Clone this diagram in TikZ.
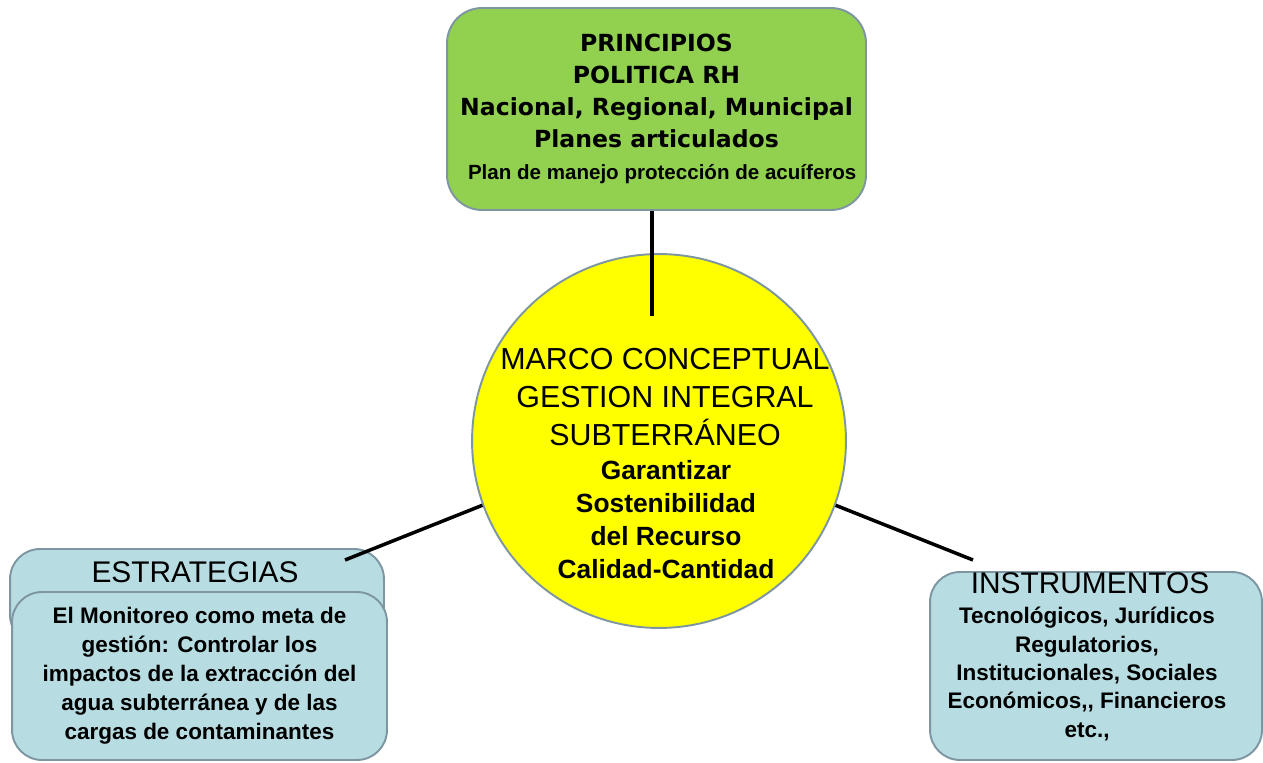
\documentclass[tikz,border=0pt]{standalone}
\usepackage{fontspec}
\setmainfont{Liberation Sans}
\newfontfamily\verdana{DejaVu Sans}
\usetikzlibrary{calc}
\definecolor{verde}{RGB}{146,208,80}
\definecolor{celeste}{RGB}{183,221,227}
\definecolor{amarillo}{RGB}{255,255,0}
\definecolor{borde}{RGB}{125,150,162}
\tikzstyle{caja} = [draw=borde, line width=1.1pt, rounded corners=0.6cm, inner sep=0pt]
\tikzstyle{conector} = [line width=2pt, black]

\begin{document}
\begin{tikzpicture}[x=0.02cm, y=-0.02cm]
        \useasboundingbox (0,0) rectangle (1263,763);

        % Principios (arriba)
        \node at (656.5,109) [caja, rounded corners=0.7cm, fill=verde, minimum width=8.38cm, minimum height=4.04cm, align=center, font=\verdana\bfseries\fontsize{13.4}{18.2}\selectfont] (principios) {PRINCIPIOS\\POLITICA RH\\Nacional, Regional, Municipal\\Planes articulados\\{\normalfont\bfseries\fontsize{11.7}{18.2}\selectfont\ \ Plan de manejo protección de acuíferos}};

        % Marco conceptual (centro)
        \node at (659,441) [circle, draw=borde, line width=1.1pt, fill=amarillo, minimum size=7.48cm] (marco) {};
        \node at (665,397) [align=center, font=\fontsize{17.3}{21.6}\selectfont] (marcotitulo) {MARCO CONCEPTUAL\\GESTION INTEGRAL\\SUBTERRÁNEO};
        \node at (666,520) [align=center, font=\bfseries\fontsize{15}{18.8}\selectfont] (marcotexto) {Garantizar\\Sostenibilidad\\del Recurso\\Calidad-Cantidad};

        % Estrategias (izquierda)
        \node at (197,597) [caja, fill=celeste, minimum width=7.48cm, minimum height=1.92cm] (fondo) {};
        \node at (195,572) [font=\fontsize{17}{19}\selectfont] (estrategias) {ESTRATEGIAS};
        \node at (199.5,676) [caja, fill=celeste, minimum width=7.5cm, minimum height=3.36cm, align=center, font=\bfseries\fontsize{12.8}{16.5}\selectfont] (monitoreo) {El Monitoreo como meta de\\gestión: Controlar los\\impactos de la extracción del\\agua subterránea y de las\\cargas de contaminantes};

        % Instrumentos (derecha)
        \node at (1096,666) [caja, fill=celeste, minimum width=6.64cm, minimum height=3.76cm] (instrumentos) {};
        \node at (1090,583) [font=\fontsize{17}{19}\selectfont] (instrumentostit) {INSTRUMENTOS};
        \node at (1087,674) [align=center, font=\bfseries\fontsize{12.8}{16.2}\selectfont] (instrumentostxt) {Tecnológicos, Jurídicos\\Regulatorios,\\Institucionales, Sociales\\Económicos,{}, Financieros\\etc.,};

        % Conectores
        \coordinate (arriba) at (652,316);
        \draw[conector] (principios.south -| arriba) -- (arriba);
        \coordinate (izq) at (345,560);
        \draw[conector] (izq) -- (marco.200);
        \coordinate (der) at (973,560);
        \draw[conector] (marco.340) -- (der);

\end{tikzpicture}
\end{document}
